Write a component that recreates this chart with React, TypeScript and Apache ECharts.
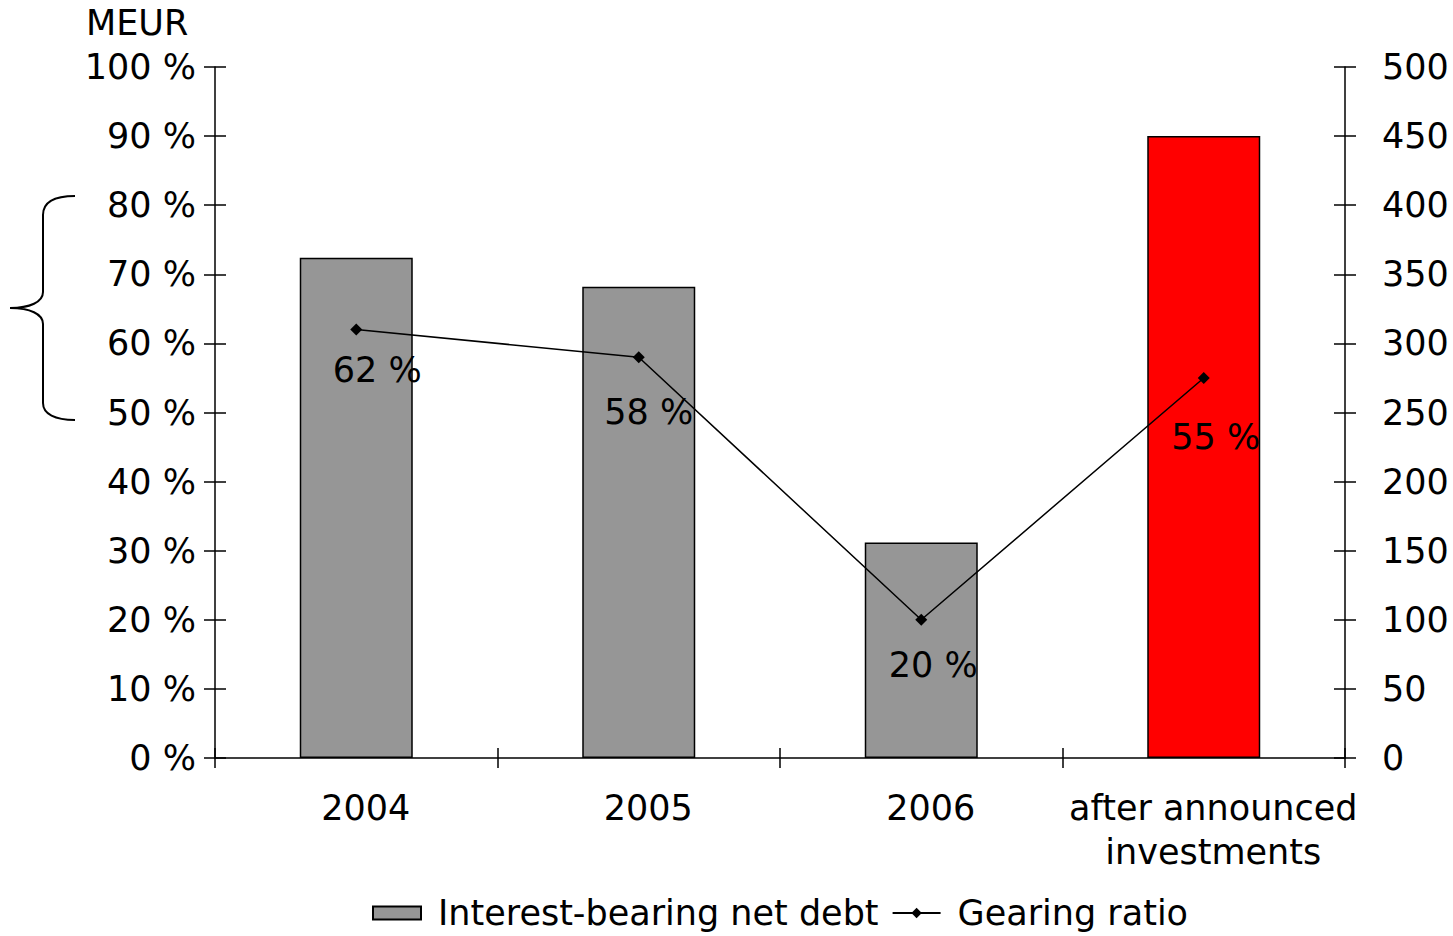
import React, { useEffect, useRef } from "react";
import * as echarts from "echarts";

// Net debt (MEUR, right axis) and gearing ratio (%, left axis)
const categories = ["2004", "2005", "2006", "after announced\ninvestments"];
const netDebt = [362, 341, 156, 450];
const gearing = [62, 58, 20, 55];
const barColors = ["#969696", "#969696", "#969696", "#ff0000"];
const percentTicks = { min: 0, max: 100, interval: 10 };
const meurTicks = { min: 0, max: 500, interval: 50 };

// label placement relative to each gearing point
const gearingLabelOffsets = [
  [21, 40],
  [10, 55],
  [12, 45],
  [12, 59],
];

const FONT = "DejaVu Sans";
const FS = 35;

const bracePath =
  "M75,196 C55,196 43,202 43,215 L43,292 C43,302 30,308 10,308 C30,308 43,314 43,324 L43,403 C43,414 55,420 75,420";
echarts.graphic.registerShape("brace", echarts.graphic.extendPath(bracePath, {}));

export default function App() {
  const ref = useRef<HTMLDivElement>(null);

  useEffect(() => {
    if (!ref.current) return;
    const chart = echarts.init(ref.current, null, { renderer: "svg" });

    const axisLine = { show: true, lineStyle: { color: "#000", width: 1.5 } };
    const labelStyle = { color: "#000", fontFamily: FONT, fontSize: FS };

    const gridRect = { left: 215, right: 108, top: 67, bottom: 178 };

    chart.setOption({
      animation: false,
      backgroundColor: "#fff",
      textStyle: { fontFamily: FONT },
      grid: [gridRect, gridRect],
      legend: {
        left: 372,
        top: 895,
        padding: 0,
        itemWidth: 48,
        itemHeight: 13,
        itemGap: 13,
        textStyle: { ...labelStyle, lineHeight: 36, padding: [0, 0, 0, 12] },
        data: [
          { name: "Interest-bearing net debt", icon: "rect" },
          { name: "Gearing ratio" },
        ],
      },
      graphic: [
        {
          type: "text",
          x: 86,
          y: 23,
          style: {
            text: "MEUR",
            fill: "#000",
            font: `${FS}px '${FONT}'`,
            textVerticalAlign: "middle",
          },
        },
        {
          type: "brace",
          x: 0,
          y: 0,
          style: { stroke: "#000", fill: "none", lineWidth: 2 },
        },
      ],
      xAxis: [
        {
          type: "category",
          gridIndex: 0,
          data: categories,
          axisLine,
          axisTick: { show: true, length: 10, lineStyle: { color: "#000", width: 1.5 } },
          axisLabel: {
            ...labelStyle,
            interval: 0,
            margin: 28,
            lineHeight: 44,
            padding: [0, 0, 0, 19],
          },
        },
        {
          type: "category",
          gridIndex: 1,
          data: categories,
          axisLine: { show: false },
          axisTick: { show: true, inside: true, length: 10, lineStyle: { color: "#000", width: 1.5 } },
          axisLabel: { show: false },
        },
      ],
      yAxis: [
        {
          type: "value",
          gridIndex: 0,
          position: "left",
          ...percentTicks,
          axisLine,
          axisTick: { show: true, length: 11, lineStyle: { color: "#000", width: 1.5 } },
          axisLabel: { ...labelStyle, margin: 19, formatter: "{value} %" },
          splitLine: { show: false },
        },
        {
          type: "value",
          gridIndex: 0,
          position: "right",
          ...meurTicks,
          axisLine,
          axisTick: { show: true, length: 11, lineStyle: { color: "#000", width: 1.5 } },
          axisLabel: { ...labelStyle, margin: 37 },
          splitLine: { show: false },
        },
        {
          type: "value",
          gridIndex: 1,
          position: "left",
          ...percentTicks,
          axisLine: { show: false },
          axisTick: { show: true, inside: true, length: 11, lineStyle: { color: "#000", width: 1.5 } },
          axisLabel: { show: false },
          splitLine: { show: false },
        },
        {
          type: "value",
          gridIndex: 1,
          position: "right",
          ...meurTicks,
          axisLine: { show: false },
          axisTick: { show: true, inside: true, length: 11, lineStyle: { color: "#000", width: 1.5 } },
          axisLabel: { show: false },
          splitLine: { show: false },
        },
      ],
      series: [
        {
          name: "Interest-bearing net debt",
          type: "bar",
          xAxisIndex: 0,
          yAxisIndex: 1,
          barWidth: 113,
          itemStyle: { color: barColors[0], borderColor: "#000", borderWidth: 1.5 },
          data: netDebt.map((v, i) => ({
            value: v,
            itemStyle: { color: barColors[i] },
          })),
          z: 2,
        },
        {
          name: "Gearing ratio",
          type: "line",
          xAxisIndex: 0,
          yAxisIndex: 0,
          symbol: "diamond",
          symbolSize: 12,
          itemStyle: { color: "#000" },
          lineStyle: { color: "#000", width: 1.5 },
          data: gearing.map((v, i) => ({
            value: v,
            label: {
              show: true,
              position: "inside",
              offset: gearingLabelOffsets[i],
              formatter: "{c} %",
              ...labelStyle,
            },
          })),
          z: 5,
        },
      ],
    });

    return () => chart.dispose();
  }, []);

  return (
    <div
      ref={ref}
      style={{ position: "absolute", left: 0, top: 0, width: 1453, height: 936 }}
    />
  );
}
